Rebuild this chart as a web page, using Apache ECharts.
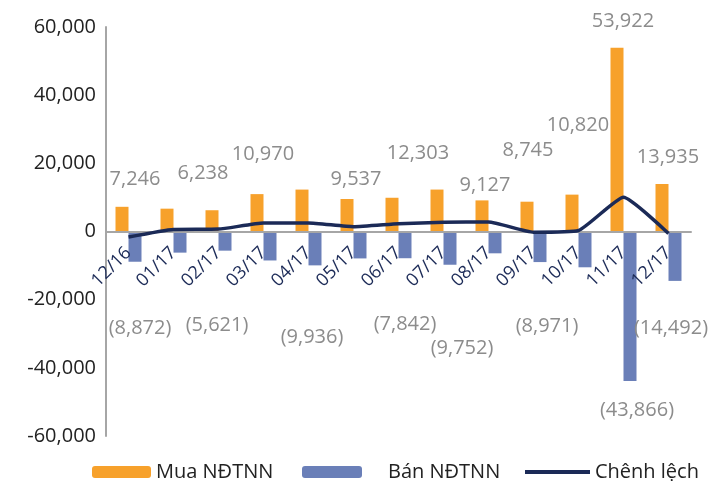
<!DOCTYPE html>
<html lang="vi">

<head>
  <meta charset="UTF-8">
  <title>Mua / Bán NĐTNN</title>
  <style>
    html, body { margin: 0; padding: 0; background: #fff; }
    #chart { width: 712px; height: 481px; }
  </style>
  <script src="https://cdn.jsdelivr.net/npm/echarts@6/dist/echarts.min.js"></script>
</head>

<body>
  <div id="chart"></div>
  <script>
    var months = ['12/16', '01/17', '02/17', '03/17', '04/17', '05/17', '06/17', '07/17', '08/17', '09/17', '10/17', '11/17', '12/17'];
    var buy = [7246, 6700, 6238, 10970, 12300, 9537, 9900, 12303, 9127, 8745, 10820, 53922, 13935];
    var sell = [-8872, -6200, -5621, -8500, -9936, -7900, -7842, -9752, -6400, -8971, -10500, -43866, -14492];
    var diff = [-1626, 600, 700, 2500, 2500, 1400, 2300, 2700, 2800, -200, 300, 10056, -557];

    // which bars carry a value label, and where it sits (offset from default spot)
    var buyLabelOffset = [[13, -13], null, [-9, -22], [6, -25], null, [9, -5], null, [-19, -21], [3, 0], [1, -36], [6, -54], [6, -11], [6, -12]];
    var sellLabelOffset = [[5, 52], null, [-8, 60], null, [-3, 57], null, [0, 51], [12, 69], null, [7, 49], null, [7, 14], [-4, 32]];

    var FONT = '"Open Sans", sans-serif';
    var grey = '#8c8c8c';

    function fmt(v) {
      var s = Math.abs(v).toLocaleString('en-US');
      return v < 0 ? '(' + s + ')' : s;
    }

    function withLabels(values, offsets, pos) {
      return values.map(function (v, i) {
        var o = offsets[i];
        return {
          value: v,
          label: o ? { show: true, position: pos, offset: o } : { show: false }
        };
      });
    }

    var chart = echarts.init(document.getElementById('chart'));
    var legendText = { fontFamily: FONT, fontSize: 20, color: '#222' };

    chart.setOption({
      animation: false,
      textStyle: { fontFamily: FONT },
      grid: { left: 106, right: 21, top: 27, bottom: 45 },
      legend: [
        { left: 87, top: 457, itemWidth: 59, itemHeight: 12, data: ['Mua NĐTNN'], textStyle: legendText },
        { left: 297, top: 457, itemWidth: 60, itemHeight: 12, data: ['Bán NĐTNN'],
          textStyle: Object.assign({ padding: [0, 0, 0, 21] }, legendText) },
        { left: 520, top: 457, itemWidth: 65, itemHeight: 4, data: [{ name: 'Chênh lệch', icon: 'rect' }], textStyle: legendText }
      ],
      xAxis: {
        type: 'category',
        data: months,
        z: 3,
        axisLine: { onZero: true, lineStyle: { color: '#a6a6a6', width: 2 } },
        axisTick: { show: false },
        // labels hang just under the zero line, not at the grid bottom
        axisLabel: { rotate: 45, margin: -186, fontSize: 18, color: '#1b2a57', fontFamily: FONT, interval: 0 }
      },
      yAxis: {
        type: 'value',
        min: -60000,
        max: 60000,
        interval: 20000,
        splitLine: { show: false },
        axisTick: { show: false },
        axisLine: { show: true, lineStyle: { color: '#a6a6a6', width: 2 } },
        axisLabel: {
          fontSize: 20, color: '#222', margin: 10, fontFamily: FONT,
          formatter: function (v) { return v.toLocaleString('en-US'); }
        }
      },
      series: [{
        name: 'Mua NĐTNN',
        type: 'bar',
        barWidth: 13,
        barGap: '0%',
        itemStyle: { color: '#f7a12b' },
        label: { fontSize: 20, color: grey, fontFamily: FONT, formatter: function (p) { return fmt(p.value); } },
        data: withLabels(buy, buyLabelOffset, 'top')
      }, {
        name: 'Bán NĐTNN',
        type: 'bar',
        barWidth: 13,
        barGap: '0%',
        itemStyle: { color: '#6a7fb8' },
        label: { fontSize: 20, color: grey, fontFamily: FONT, formatter: function (p) { return fmt(p.value); } },
        data: withLabels(sell, sellLabelOffset, 'bottom')
      }, {
        name: 'Chênh lệch',
        type: 'line',
        symbol: 'none',
        smooth: 0.15,
        z: 5,
        itemStyle: { color: '#1b2a57' },
        lineStyle: { color: '#1b2a57', width: 3.5 },
        data: diff
      }]
    });
  </script>
</body>

</html>
